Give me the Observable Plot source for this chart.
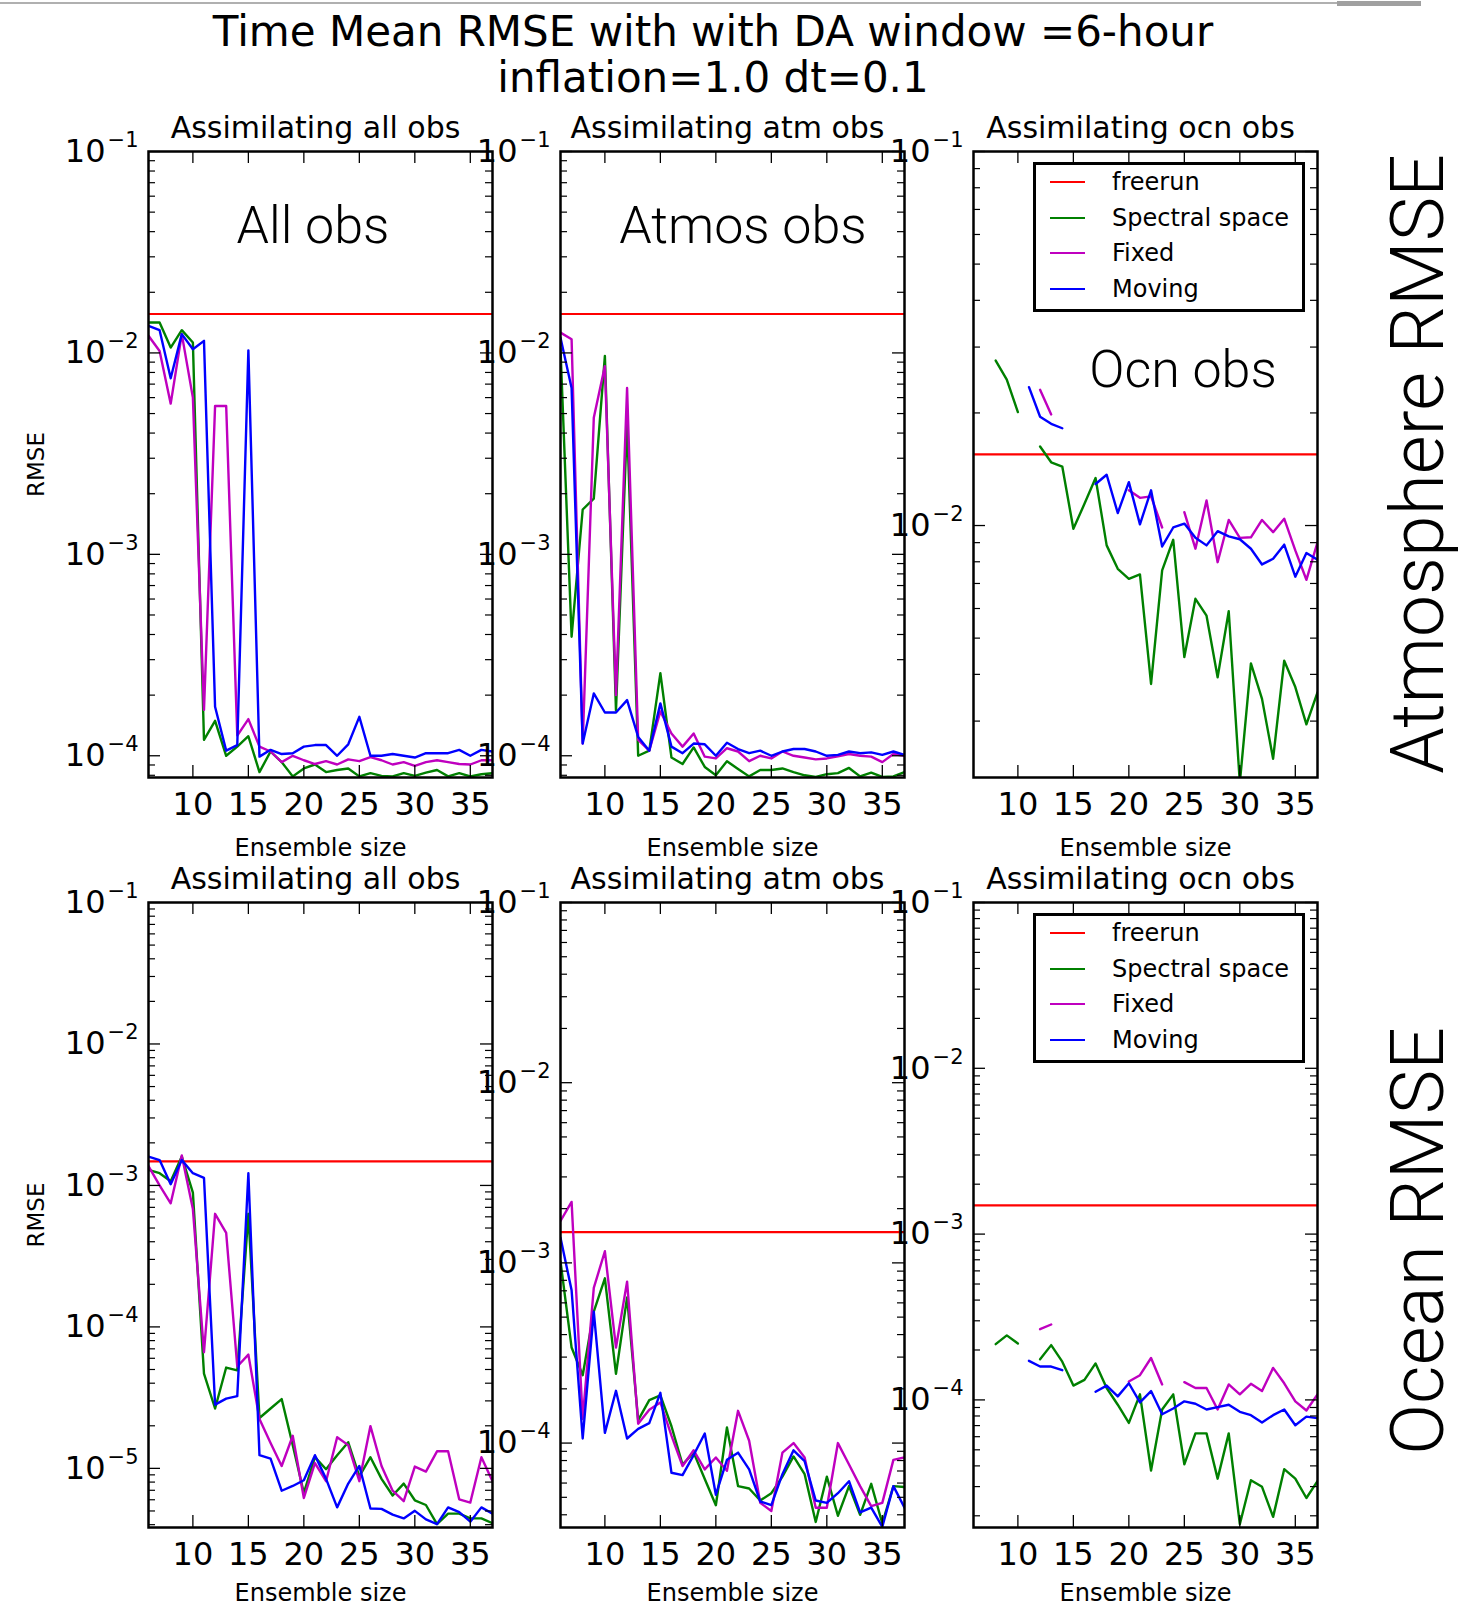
<!DOCTYPE html>
<html>
<head>
<meta charset="utf-8">
<script src="https://cdn.jsdelivr.net/npm/d3@7"></script>
<script src="https://cdn.jsdelivr.net/npm/@observablehq/plot@0.6"></script>
<style>
html, body { margin: 0; padding: 0; background: #fff; }
#page { position: relative; width: 1476px; height: 1609px; overflow: hidden; background: #fff; font-family: "DejaVu Sans"; }
.panel { position: absolute; }
.legend { position: absolute; border: 3px solid #000; background: #fff; box-sizing: border-box; font-family: "DejaVu Sans"; font-size: 24px; color: #000; }
.legend .swatch { position: absolute; left: 14px; width: 35px; height: 0; border-top: 2.5px solid; }
.legend .lbl { position: absolute; left: 76px; white-space: nowrap; line-height: 36px; height: 36px; }
#overlay { position: absolute; left: 0; top: 0; pointer-events: none; }
</style>
</head>
<body>
<div id="page"></div>
<script>
// ---------------- data ----------------
const ensembleSizes = [6,7,8,9,10,11,12,13,14,15,16,17,18,19,20,21,22,23,24,25,26,27,28,29,30,31,32,33,34,35,36,37];
const xTickValues = [10,15,20,25,30,35];
const yDecadeTicks = [1e-1,1e-2,1e-3,1e-4,1e-5];
const panelTitles = ["Assimilating all obs","Assimilating atm obs","Assimilating ocn obs"];
const seriesNames = ["freerun","Spectral space","Fixed","Moving"];
const seriesColors = ["#ff0000","#008000","#bf00bf","#0000ff"];
const rowLabels = ["Atmosphere RMSE","Ocean RMSE"];
const panelNotes = ["All obs","Atmos obs","Ocn obs"];

// Atmosphere RMSE row
const atmFreerun = 0.0156;
const atmAllSpectral = [0.01416,0.01416,0.01063,0.01297,0.01126,1.2e-4,1.49e-4,1.0e-4,1.11e-4,1.25e-4,8.3e-5,1.05e-4,9.3e-5,7.9e-5,8.65e-5,9.05e-5,8.3e-5,8.5e-5,8.65e-5,7.9e-5,8.2e-5,7.95e-5,7.9e-5,8.2e-5,7.95e-5,8.25e-5,8.5e-5,7.9e-5,8.2e-5,7.9e-5,8.1e-5,8.2e-5];
const atmAllFixed    = [0.01216,0.01023,0.0056,0.0124,0.0060,1.69e-4,0.00545,0.00545,1.26e-4,1.52e-4,1.11e-4,1.05e-4,9.3e-5,1.0e-4,9.5e-5,9.1e-5,9.4e-5,9.05e-5,9.6e-5,9.4e-5,9.85e-5,9.5e-5,9.05e-5,9.3e-5,8.9e-5,9.3e-5,9.5e-5,9.3e-5,9.1e-5,9.05e-5,9.5e-5,9.5e-5];
const atmAllMoving   = [0.01361,0.01297,0.00748,0.0124,0.01042,0.01148,1.75e-4,1.06e-4,1.13e-4,0.0103,9.9e-5,1.07e-4,1.02e-4,1.03e-4,1.11e-4,1.13e-4,1.13e-4,1.0e-4,1.14e-4,1.56e-4,1.0e-4,1.0e-4,1.02e-4,1.0e-4,9.8e-5,1.03e-4,1.03e-4,1.03e-4,1.07e-4,1.0e-4,1.07e-4,1.05e-4];

const atmAtmSpectral = [0.0105,3.9e-4,1.67e-3,1.89e-3,0.00966,1.68e-4,0.0045,1.0e-4,1.06e-4,2.57e-4,9.8e-5,9.1e-5,1.1e-4,8.8e-5,8.0e-5,9.4e-5,8.6e-5,7.9e-5,8.5e-5,8.5e-5,8.65e-5,8.3e-5,8.0e-5,7.85e-5,8.1e-5,8.2e-5,8.7e-5,7.9e-5,8.25e-5,7.85e-5,7.9e-5,8.3e-5];
const atmAtmFixed    = [0.01262,0.01169,1.15e-4,0.00476,0.0086,2.0e-4,0.0067,1.2e-4,1.06e-4,1.66e-4,1.29e-4,1.11e-4,1.29e-4,9.9e-5,9.7e-5,1.09e-4,1.05e-4,9.4e-5,1.0e-4,9.7e-5,1.05e-4,1.0e-4,9.8e-5,9.6e-5,9.7e-5,9.95e-5,1.02e-4,1.0e-4,9.9e-5,9.3e-5,1.02e-4,1.0e-4];
const atmAtmMoving   = [0.0119,0.0067,1.15e-4,2.04e-4,1.64e-4,1.64e-4,1.89e-4,1.24e-4,1.06e-4,1.82e-4,1.11e-4,1.03e-4,1.15e-4,1.14e-4,1.0e-4,1.16e-4,1.08e-4,1.03e-4,1.06e-4,1.0e-4,1.05e-4,1.08e-4,1.08e-4,1.05e-4,1.0e-4,1.01e-4,1.05e-4,1.03e-4,1.04e-4,1.01e-4,1.05e-4,1.01e-4];

const atmOcnFreerun = 0.0155;
const atmOcnSpectral = [null,null,0.0276,0.02454,0.0201,null,0.01626,0.01476,0.01438,0.0098,0.01143,0.0134,0.00885,0.00766,0.0072,0.0074,0.00377,0.00759,0.00916,0.00445,0.00637,0.00574,0.00393,0.0059,0.00205,0.00428,0.00344,0.00238,0.00435,0.0037,0.00294,0.00358];
const atmOcnFixed    = [null,null,null,null,null,null,0.02307,0.01982,null,null,null,null,null,null,0.01242,0.01186,0.01197,0.00988,null,0.01086,0.00867,0.01167,0.00798,0.01035,0.00927,0.0093,0.01035,0.0096,0.01043,0.00858,0.00716,0.00901];
const atmOcnMoving   = [null,null,null,null,null,0.02344,0.01954,0.0187,0.0182,null,null,0.01291,0.01367,0.0108,0.01306,0.01007,0.01242,0.00879,0.00988,0.01012,0.00927,0.00885,0.00966,0.00935,0.00919,0.00867,0.00787,0.00815,0.00889,0.0073,0.00844,0.0081];

// Ocean RMSE row
const ocnFreerun = 0.00148;
const ocnAllSpectral = [1.29e-3,1.22e-3,1.07e-3,1.60e-3,8.9e-4,4.67e-5,2.65e-5,5.16e-5,4.93e-5,6.3e-4,2.27e-5,2.65e-5,3.09e-5,1.46e-5,6.7e-6,1.20e-5,9.86e-6,1.24e-5,1.53e-5,8.77e-6,1.20e-5,8.43e-6,6.43e-6,7.81e-6,5.95e-6,5.51e-6,4.04e-6,4.79e-6,4.79e-6,4.43e-6,4.43e-6,4.1e-6];
const ocnAllFixed    = [1.37e-3,1.00e-3,7.48e-4,1.63e-3,6.81e-4,6.62e-5,6.3e-4,4.62e-4,5.25e-5,6.37e-5,2.23e-5,1.51e-5,1.04e-5,1.70e-5,6.18e-6,1.09e-5,8.12e-6,1.66e-5,1.46e-5,8.12e-6,1.99e-5,1.04e-5,6.95e-6,5.86e-6,1.03e-5,9.49e-6,1.32e-5,1.32e-5,6.04e-6,5.73e-6,1.20e-5,8.12e-6];
const ocnAllMoving   = [1.60e-3,1.51e-3,1.02e-3,1.51e-3,1.22e-3,1.13e-3,2.82e-5,3.11e-5,3.24e-5,1.22e-3,1.24e-5,1.17e-5,6.95e-6,7.51e-6,8.25e-6,1.24e-5,8.43e-6,5.3e-6,7.81e-6,1.04e-5,5.21e-6,5.17e-6,4.71e-6,4.43e-6,5.01e-6,4.36e-6,4.04e-6,5.3e-6,4.9e-6,4.2e-6,5.3e-6,4.79e-6];

const ocnAtmSpectral = [1.02e-3,3.39e-4,2.38e-4,5.36e-4,8.21e-4,2.42e-4,6.43e-4,1.34e-4,1.73e-4,1.84e-4,1.24e-4,7.6e-5,8.85e-5,6.32e-5,4.52e-5,1.22e-4,5.77e-5,5.6e-5,4.8e-5,5.27e-5,6.51e-5,8.43e-5,6.72e-5,3.65e-5,6.51e-5,3.95e-5,5.77e-5,4.0e-5,5.94e-5,3.58e-5,5.77e-5,5.7e-5];
const ocnAtmFixed    = [1.71e-3,2.18e-3,1.36e-4,7.26e-4,1.16e-3,3.39e-4,7.87e-4,1.28e-4,1.53e-4,1.68e-4,1.10e-4,7.46e-5,9.12e-5,7.14e-5,8.32e-5,7.02e-5,1.51e-4,1.03e-4,4.66e-5,4.2e-5,8.85e-5,1.0e-4,8.32e-5,4.38e-5,4.38e-5,1.0e-4,7.6e-5,5.77e-5,4.47e-5,4.66e-5,8.07e-5,8.32e-5];
const ocnAtmMoving   = [1.38e-3,7.05e-4,1.06e-4,5.36e-4,1.14e-4,1.95e-4,1.06e-4,1.20e-4,1.29e-4,1.90e-4,6.84e-5,6.64e-5,8.58e-5,1.13e-4,5.17e-5,8.07e-5,8.85e-5,7.14e-5,4.74e-5,4.52e-5,6.72e-5,9.12e-5,7.93e-5,4.8e-5,4.66e-5,5.27e-5,6.14e-5,4.12e-5,4.38e-5,3.43e-5,5.77e-5,4.38e-5];

const ocnOcnFreerun = 0.00149;
const ocnOcnSpectral = [null,null,2.17e-4,2.45e-4,2.19e-4,null,1.76e-4,2.14e-4,1.70e-4,1.22e-4,1.32e-4,1.66e-4,1.18e-4,9.35e-5,7.27e-5,1.08e-4,3.75e-5,8.75e-5,1.08e-4,4.09e-5,6.28e-5,6.28e-5,3.35e-5,6.28e-5,1.78e-5,3.28e-5,2.99e-5,1.97e-5,3.82e-5,3.35e-5,2.56e-5,3.24e-5];
const ocnOcnFixed    = [null,null,null,null,null,null,2.67e-4,2.85e-4,null,null,null,null,null,null,1.29e-4,1.41e-4,1.79e-4,1.24e-4,null,1.28e-4,1.18e-4,1.18e-4,8.75e-5,1.24e-4,1.08e-4,1.25e-4,1.13e-4,1.56e-4,1.26e-4,9.8e-5,8.63e-5,1.08e-4];
const ocnOcnMoving   = [null,null,null,null,null,1.72e-4,1.59e-4,1.59e-4,1.51e-4,null,null,1.12e-4,1.22e-4,1.05e-4,1.26e-4,9.66e-5,1.13e-4,8.19e-5,8.87e-5,9.8e-5,9.48e-5,8.75e-5,9.04e-5,9.35e-5,8.47e-5,8.09e-5,7.31e-5,8.09e-5,8.75e-5,7.03e-5,7.93e-5,7.76e-5];

// y-scale domains (log)
const atmRowDomains = [[7.8e-5, 0.1],[7.8e-5, 0.1],[2.12e-3, 0.1]];
const ocnRowDomains = [[3.82e-6, 0.1],[3.4e-5, 0.1],[1.70e-5, 0.1]];

// ---------------- layout ----------------
const page = document.getElementById("page");
const FRAME_W = 344;
const frameLefts = [148, 560, 973];
const frameTops = [151, 902];
const frameHeights = [626, 625];
const xLabelOffsets = [78, 73];
const ML = 140, MR = 24, MT = 60, MB = 100;

function minorTicks(lo, hi) {
  const t = [];
  for (let k = -8; k <= 0; k++) for (let m = 2; m <= 9; m++) {
    const v = m * Math.pow(10, k);
    if (v >= lo && v <= hi) t.push(v);
  }
  return t;
}
function rowsOf(values) { return ensembleSizes.map((x, i) => ({x, y: values[i]})); }

function superscriptify(svg) {
  svg.querySelectorAll("text").forEach(t => {
    const m = /^10\^(-?)(\d+)$/.exec(t.textContent);
    if (!m) return;
    t.textContent = "10";
    t.setAttribute("font-size", "32");
    const ts = document.createElementNS("http://www.w3.org/2000/svg", "tspan");
    ts.setAttribute("dy", "-15");
    ts.setAttribute("dx", "2");
    ts.setAttribute("font-size", "21");
    ts.textContent = (m[1] ? "\u2212" : "") + m[2];
    t.appendChild(ts);
  });
}

function makePanel(opts) {
  const [lo, hi] = opts.domain;
  const fh = opts.frameH, fw = FRAME_W;
  const majors = yDecadeTicks.filter(v => v >= lo * 0.9999 && v <= hi * 1.0001);
  const minors = minorTicks(lo, hi);
  const lw = 2.4;
  const marks = [
    Plot.ruleY([opts.freerun], {y: d => d, stroke: seriesColors[0], strokeWidth: 2.2, clip: true}),
    Plot.line(rowsOf(opts.spectral), {x: "x", y: "y", stroke: seriesColors[1], strokeWidth: lw, clip: true}),
    Plot.line(rowsOf(opts.fixed), {x: "x", y: "y", stroke: seriesColors[2], strokeWidth: lw, clip: true}),
    Plot.line(rowsOf(opts.moving), {x: "x", y: "y", stroke: seriesColors[3], strokeWidth: lw, clip: true}),
    Plot.tickY(majors, {y: d => d, insetRight: fw - 12, stroke: "#000", strokeWidth: 1.3}),
    Plot.tickY(majors, {y: d => d, insetLeft: fw - 12, stroke: "#000", strokeWidth: 1.3}),
    Plot.tickY(minors, {y: d => d, insetRight: fw - 7, stroke: "#000", strokeWidth: 1.2}),
    Plot.tickY(minors, {y: d => d, insetLeft: fw - 7, stroke: "#000", strokeWidth: 1.2}),
    Plot.tickX(xTickValues, {x: d => d, insetBottom: fh - 12, stroke: "#000", strokeWidth: 1.3}),
    Plot.tickX(xTickValues, {x: d => d, insetTop: fh - 12, stroke: "#000", strokeWidth: 1.3}),
    Plot.frame({stroke: "#000", strokeWidth: 2.5}),
    Plot.axisX({ticks: xTickValues, tickSize: 0, tickPadding: 15, fontSize: 32, label: null, tickFormat: d => String(d)}),
    Plot.axisY({ticks: majors, tickSize: 0, tickPadding: 10, fontSize: 32, label: null, tickFormat: d => "10^" + Math.round(Math.log10(d))}),
    Plot.text([opts.title], {frameAnchor: "top", dx: -5, dy: -14, lineAnchor: "bottom", textAnchor: "middle", fontSize: 30, text: d => d}),
    Plot.text(["Ensemble size"], {frameAnchor: "bottom", dy: opts.xLabelOffset, lineAnchor: "bottom", textAnchor: "middle", fontSize: 24, text: d => d})
  ];
  if (opts.ylabel) marks.push(Plot.text([opts.ylabel], {frameAnchor: "left", dx: -112, rotate: -90, textAnchor: "middle", lineAnchor: "middle", fontSize: 23, text: d => d}));
  const svg = Plot.plot({
    width: ML + fw + MR,
    height: MT + fh + MB,
    marginLeft: ML, marginRight: MR, marginTop: MT, marginBottom: MB,
    x: {domain: [6, 37]},
    y: {type: "log", domain: [lo, hi]},
    style: {background: "transparent", overflow: "visible", fontFamily: "DejaVu Sans", color: "#000"},
    marks
  });
  superscriptify(svg);
  const wrap = document.createElement("div");
  wrap.className = "panel";
  wrap.style.left = (opts.frameLeft - ML) + "px";
  wrap.style.top = (opts.frameTop - MT) + "px";
  wrap.appendChild(svg);
  page.appendChild(wrap);
}

const panels = [
  {row: 0, col: 0, freerun: atmFreerun, spectral: atmAllSpectral, fixed: atmAllFixed, moving: atmAllMoving},
  {row: 0, col: 1, freerun: atmFreerun, spectral: atmAtmSpectral, fixed: atmAtmFixed, moving: atmAtmMoving},
  {row: 0, col: 2, freerun: atmOcnFreerun, spectral: atmOcnSpectral, fixed: atmOcnFixed, moving: atmOcnMoving},
  {row: 1, col: 0, freerun: ocnFreerun, spectral: ocnAllSpectral, fixed: ocnAllFixed, moving: ocnAllMoving},
  {row: 1, col: 1, freerun: ocnFreerun, spectral: ocnAtmSpectral, fixed: ocnAtmFixed, moving: ocnAtmMoving},
  {row: 1, col: 2, freerun: ocnOcnFreerun, spectral: ocnOcnSpectral, fixed: ocnOcnFixed, moving: ocnOcnMoving}
];
panels.forEach(p => {
  makePanel({
    ...p,
    domain: (p.row === 0 ? atmRowDomains : ocnRowDomains)[p.col],
    frameH: frameHeights[p.row],
    frameLeft: frameLefts[p.col],
    frameTop: frameTops[p.row],
    xLabelOffset: xLabelOffsets[p.row],
    title: panelTitles[p.col],
    ylabel: p.col === 0 ? "RMSE" : null
  });
});

// legends (in the ocn-obs panels)
function addLegend(left, top) {
  const box = document.createElement("div");
  box.className = "legend";
  Object.assign(box.style, {left: left + "px", top: top + "px", width: "272px", height: "150px"});
  const centers = [17, 53, 88, 124];
  seriesNames.forEach((name, i) => {
    const sw = document.createElement("div");
    sw.className = "swatch";
    sw.style.top = (centers[i] - 1) + "px";
    sw.style.borderTopColor = seriesColors[i];
    const lb = document.createElement("div");
    lb.className = "lbl";
    lb.style.top = (centers[i] - 18) + "px";
    lb.textContent = name;
    box.append(sw, lb);
  });
  page.appendChild(box);
}
addLegend(frameLefts[2] + 60, frameTops[0] + 11);
addLegend(frameLefts[2] + 60, frameTops[1] + 11);

// titles and annotations
const overlay = `
<svg id="overlay" width="1476" height="1609" xmlns="http://www.w3.org/2000/svg">
  <rect x="0" y="2" width="1337" height="2" fill="#b0b0b0"/>
  <rect x="1337" y="1" width="84" height="5" fill="#a0a0a0"/>
  <g font-family="DejaVu Sans" font-size="42" text-anchor="middle" fill="#000">
    <text x="713" y="46">Time Mean RMSE with with DA window =6-hour</text>
    <text x="713" y="92">inflation=1.0 dt=0.1</text>
  </g>
  <g font-family="Roboto, 'Liberation Sans', sans-serif" font-weight="300" text-anchor="middle" fill="#000">
    <text x="313" y="243" font-size="52">${panelNotes[0]}</text>
    <text x="743" y="243" font-size="52">${panelNotes[1]}</text>
    <text x="1183" y="387" font-size="52">${panelNotes[2]}</text>
    <text transform="translate(1443,464) rotate(-90)" font-size="75">${rowLabels[0]}</text>
    <text transform="translate(1443,1241) rotate(-90)" font-size="75">${rowLabels[1]}</text>
  </g>
</svg>`;
page.insertAdjacentHTML("beforeend", overlay);
</script>
</body>
</html>
